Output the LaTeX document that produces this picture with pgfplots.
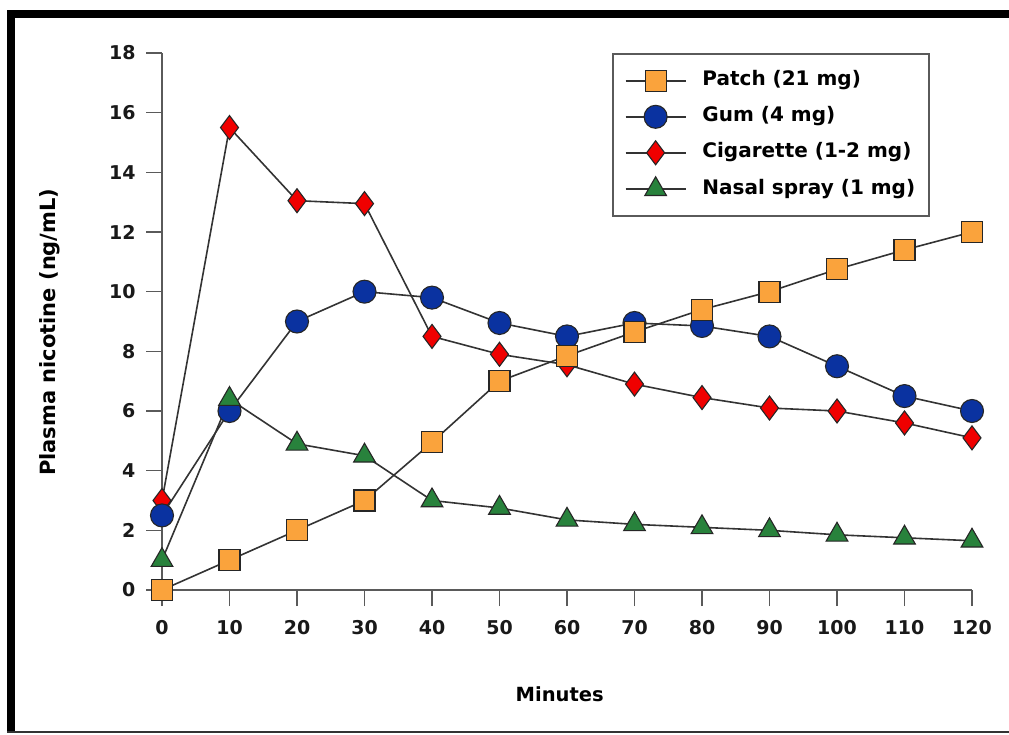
\documentclass[border=0pt]{standalone}
\usepackage{fontspec}
\setmainfont{DejaVu Sans}
\usepackage{pgfplots}
\pgfplotsset{compat=1.18}
\definecolor{patchc}{RGB}{250,163,60}
\definecolor{gumc}{RGB}{10,50,160}
\definecolor{cigc}{RGB}{240,0,0}
\definecolor{nasc}{RGB}{40,130,60}
\definecolor{axc}{RGB}{90,90,90}

\pgfplotsset{
  linestyle/.style={draw=black!80, line width=1.6pt},
  patchst/.style={linestyle, mark=square*, mark size=10.5pt, mark options={fill=patchc, draw=black!85, line width=1.1pt}},
  gumst/.style={linestyle, mark=*, mark size=11.5pt, mark options={fill=gumc, draw=black!85, line width=1.1pt}},
  cigst/.style={linestyle, mark=diamond*, mark size=12pt, mark options={fill=cigc, draw=black!85, line width=1.1pt}},
  nasst/.style={linestyle, mark=triangle*, mark size=12.5pt, mark options={fill=nasc, draw=black!85, line width=1.1pt}},
}

\begin{document}
\begin{tikzpicture}
\path[use as bounding box] (0pt,0pt) rectangle (1009pt,734pt);
\fill[black] (7pt,716pt) rectangle (1009pt,724pt);
\fill[black] (7pt,1pt) rectangle (15pt,724pt);
\fill[black!80] (7pt,1pt) rectangle (1009pt,3pt);
\begin{axis}[
    at={(162pt,144pt)}, anchor=south west,
    scale only axis, width=810pt, height=537pt,
    xmin=0, xmax=120, ymin=0, ymax=18,
    axis x line=bottom, axis y line=left,
    axis line style={-, draw=axc, line width=1.8pt},
    xtick={0,10,...,120}, ytick={0,2,...,18},
    tick align=outside, major tick length=16pt,
    tick style={draw=axc, line width=1.6pt},
    clip=false,
    /pgf/number format/assume math mode=true,
    tick label style={font=\fontsize{19}{22}\selectfont\bfseries, text=black!90},
    xticklabel style={yshift=-11pt},
    yticklabel style={xshift=-7pt},
    xlabel={Minutes}, ylabel={Plasma nicotine (ng/mL)},
    xlabel style={at={(axis description cs:0.491,-0.195)}, anchor=center,
      font=\fontsize{19.5}{22}\selectfont\bfseries},
    ylabel style={at={(axis description cs:-0.139,0.48)}, anchor=center,
      font=\fontsize{21}{24}\selectfont\bfseries},
    legend style={at={(axis description cs:0.5556,1)}, anchor=north west,
      draw=axc, line width=1.6pt, inner xsep=12pt, inner ysep=15pt,
      font=\fontsize{20}{23}\selectfont\bfseries, row sep=12pt,
      nodes={text height=15pt, text depth=5pt},
      /tikz/every odd column/.append style={column sep=14pt}},
    legend cell align=left,
    legend image code/.code={
      \draw[mark repeat=2,mark phase=2] plot coordinates {(0pt,0pt) (30pt,0pt) (60pt,0pt)};},
  ]
  \addlegendimage{patchst}
  \addlegendentry{Patch (21 mg)}
  \addlegendimage{gumst}
  \addlegendentry{Gum (4 mg)}
  \addlegendimage{cigst}
  \addlegendentry{Cigarette (1-2 mg)}
  \addlegendimage{nasst}
  \addlegendentry{Nasal spray (1 mg)}

  % cigarette
  \addplot[cigst, forget plot] coordinates {
    (0,3.0) (10,15.5) (20,13.05) (30,12.95) (40,8.5) (50,7.9) (60,7.55)
    (70,6.9) (80,6.45) (90,6.1) (100,6.0) (110,5.6) (120,5.1)};
  % gum
  \addplot[gumst, forget plot] coordinates {
    (0,2.5) (10,6.0) (20,9.0) (30,10.0) (40,9.8) (50,8.95) (60,8.5)
    (70,8.95) (80,8.85) (90,8.5) (100,7.5) (110,6.5) (120,6.0)};
  % patch
  \addplot[patchst, forget plot] coordinates {
    (0,0) (10,1.0) (20,2.0) (30,3.0) (40,4.95) (50,7.0) (60,7.85)
    (70,8.65) (80,9.4) (90,10.0) (100,10.75) (110,11.4) (120,12.0)};
  % nasal spray
  \addplot[nasst, forget plot] coordinates {
    (0,1.0) (10,6.4) (20,4.9) (30,4.5) (40,3.0) (50,2.75) (60,2.35)
    (70,2.2) (80,2.1) (90,2.0) (100,1.85) (110,1.75) (120,1.65)};
\end{axis}
\end{tikzpicture}
\end{document}
